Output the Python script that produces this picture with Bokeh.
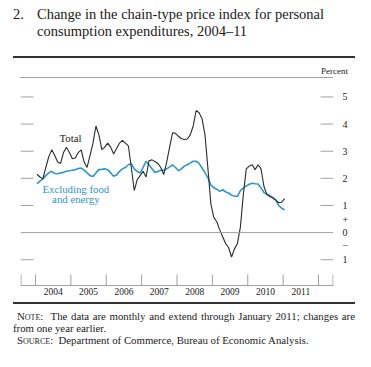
import math
from bokeh.plotting import figure
from bokeh.layouts import column
from bokeh.models import LinearAxis, FixedTicker, Range1d, Span, Label, Div
from bokeh.embed import file_html
from bokeh.resources import INLINE

# Monthly data, Jan 2004 - Jan 2011 (percent change from one year earlier)
start_year = 2004
total = [
    2.15, 2.05, 1.98, 2.40, 2.80, 3.05, 2.85, 2.60, 2.55, 2.95, 3.15, 2.95,   # 2004
    2.72, 2.75, 2.95, 3.05, 2.60, 2.40, 2.85, 3.30, 3.93, 3.60, 3.06, 3.15,   # 2005
    3.30, 3.15, 2.90, 3.10, 3.30, 3.40, 3.30, 3.20, 2.40, 1.55, 1.95, 2.10,   # 2006
    2.26, 2.05, 2.65, 2.68, 2.62, 2.55, 2.40, 2.14, 2.60, 3.15, 3.68, 3.66,   # 2007
    3.55, 3.46, 3.43, 3.45, 3.60, 3.93, 4.50, 4.42, 4.20, 3.60, 2.35, 1.05,   # 2008
    0.55, 0.40, 0.10, -0.15, -0.40, -0.55, -0.90, -0.60, -0.40, 0.20, 1.40, 2.35,  # 2009
    2.45, 2.50, 2.32, 2.50, 2.35, 1.70, 1.40, 1.33, 1.27, 1.20, 1.10, 1.12,   # 2010
    1.25,                                                                       # Jan 2011
]
core = [
    1.80, 1.90, 1.98, 2.10, 2.20, 2.26, 2.18, 2.17, 2.20, 2.22, 2.26, 2.28,   # 2004
    2.30, 2.32, 2.36, 2.38, 2.30, 2.20, 2.10, 2.07, 2.20, 2.32, 2.33, 2.35,   # 2005
    2.32, 2.20, 2.08, 2.12, 2.26, 2.35, 2.40, 2.50, 2.54, 2.35, 2.25, 2.20,   # 2006
    2.40, 2.63, 2.50, 2.35, 2.22, 2.25, 2.30, 2.30, 2.35, 2.42, 2.50, 2.40,   # 2007
    2.28, 2.35, 2.45, 2.50, 2.57, 2.63, 2.63, 2.55, 2.38, 2.20, 2.02, 1.75,   # 2008
    1.65, 1.60, 1.52, 1.58, 1.50, 1.46, 1.38, 1.35, 1.33, 1.55, 1.65, 1.72,   # 2009
    1.78, 1.82, 1.80, 1.79, 1.65, 1.48, 1.42, 1.36, 1.30, 1.20, 1.00, 0.90,   # 2010
    0.84,                                                                       # Jan 2011
]
year_labels = ["2004", "2005", "2006", "2007", "2008", "2009", "2010", "2011"]
y_ticks = [-1, 0, 1, 2, 3, 4, 5]
y_tick_labels = ["1", "+\n0\n\u2212", "1", "2", "3", "4", "5"]

title_lines = ["Change in the chain-type price index for personal",
               "consumption expenditures, 2004\u201311"]
note_text = ("The data are monthly and extend through January 2011; changes are",
             "from one year earlier.")
source_text = "Department of Commerce, Bureau of Economic Analysis."

months = [start_year + (i + 0.5) / 12 for i in range(len(total))]

SERIF = "Liberation Serif"
GRAY = "#a0a0a0"
INK = "#1a1a1a"
RULE = "#333333"
BLUE = "#2e96cb"
W = 371

# ---------- header (HTML text) ----------
head_html = f"""
<div style="position:relative;width:{W}px;height:78px;font-family:'{SERIF}',serif;color:{INK};">
  <div style="position:absolute;left:13px;top:5.5px;font-size:14.5px;line-height:17px;white-space:nowrap;">2.</div>
  <div style="position:absolute;left:37px;top:5.5px;font-size:14.5px;line-height:17px;white-space:nowrap;">{title_lines[0]}<br>{title_lines[1]}</div>
  <div style="position:absolute;left:13px;top:56px;width:342px;height:0;border-top:2.5px solid {RULE};"></div>
  <div style="position:absolute;right:23px;top:65.5px;font-size:9px;line-height:11px;white-space:nowrap;">Percent</div>
  <div style="position:absolute;left:20px;top:77px;width:313px;height:0;border-top:1px solid {GRAY};"></div>
</div>"""
head = Div(text=head_html, width=W, height=78, margin=0)

# ---------- main chart ----------
x0, x1 = 2003.576, 2012.424
y0, y1 = -1.95, 5.68
p = figure(width=W, height=222, output_backend="svg", toolbar_location=None,
           x_range=Range1d(x0, x1), y_range=Range1d(y0, y1),
           x_axis_location=None, y_axis_location=None,
           min_border_left=20, min_border_right=38, min_border_top=0, min_border_bottom=15)
p.outline_line_color = None
p.center = []          # no grids

year_mid = [int(y) + 0.5 for y in year_labels]
edge = 0.5 / 35.375
bounds = [x0 + edge] + [int(y) for y in year_labels] + [int(year_labels[-1]) + 1, x1 - edge]

# bottom axis: line + centred year labels
xa = LinearAxis(ticker=FixedTicker(ticks=year_mid),
                major_label_overrides={m: s for m, s in zip(year_mid, year_labels)},
                major_tick_line_color=None, minor_tick_line_color=None,
                major_tick_in=0, major_tick_out=0, minor_tick_in=0, minor_tick_out=0,
                axis_line_color=GRAY, major_label_standoff=2,
                major_label_text_font=SERIF, major_label_text_font_size="9.5px",
                major_label_text_color=INK)
p.add_layout(xa, "below")

# right axis: labels only
ya = LinearAxis(ticker=FixedTicker(ticks=y_ticks),
                major_label_overrides={t: s for t, s in zip(y_ticks, y_tick_labels)},
                major_tick_line_color=None, minor_tick_line_color=None, axis_line_color=None,
                major_tick_in=0, major_tick_out=0, minor_tick_in=0, minor_tick_out=0,
                major_label_standoff=9, major_label_text_font=SERIF,
                major_label_text_font_size="10px", major_label_text_color=INK)
p.add_layout(ya, "right")

# inner tick marks
tick_vals = [t for t in y_ticks if t != 0]
p.ray(x=[x0] * len(tick_vals), y=tick_vals, length=13, length_units="screen",
      angle=0, line_color=GRAY, line_width=1)
p.ray(x=[x1] * len(tick_vals), y=tick_vals, length=13, length_units="screen",
      angle=math.pi, line_color=GRAY, line_width=1)
p.ray(x=bounds, y=[y0] * len(bounds), length=11, length_units="screen",
      angle=math.pi / 2, line_color=GRAY, line_width=1)

p.add_layout(Span(location=0, dimension="width", line_color=GRAY, line_width=1))

p.line(months, core, line_color=BLUE, line_width=1.6)
p.line(months, total, line_color="#2a2a2a", line_width=1.1)


def lab(s, x, y, color=INK):
    p.add_layout(Label(text=s, x=x, y=y, text_font=SERIF, text_font_size="10.8px",
                       text_color=color, text_align="center", text_baseline="middle"))


lab("Total", 2004.99, 3.49)
lab("Excluding food", 2005.14, 1.61, BLUE)
lab("and energy", 2005.14, 1.24, BLUE)

# ---------- footer (HTML text) ----------
foot_html = f"""
<div style="position:relative;width:{W}px;height:67px;font-family:'{SERIF}',serif;color:{INK};font-size:10.8px;line-height:12px;">
  <div style="position:absolute;left:13px;top:2px;width:342px;height:0;border-top:2.4px solid {RULE};"></div>
  <div style="position:absolute;left:17px;top:9.5px;width:338px;white-space:nowrap;text-align:justify;text-align-last:justify;"><span style="font-variant:small-caps;">Note</span>:&nbsp; {note_text[0]}</div>
  <div style="position:absolute;left:13px;top:21.5px;white-space:nowrap;">{note_text[1]}</div>
  <div style="position:absolute;left:17px;top:33.5px;white-space:nowrap;"><span style="font-variant:small-caps;">Source</span>:&nbsp; {source_text}</div>
</div>"""
foot = Div(text=foot_html, width=W, height=67, margin=0)

layout = column(head, p, foot, spacing=0)
open("out.html", "w").write(file_html(layout, INLINE))
